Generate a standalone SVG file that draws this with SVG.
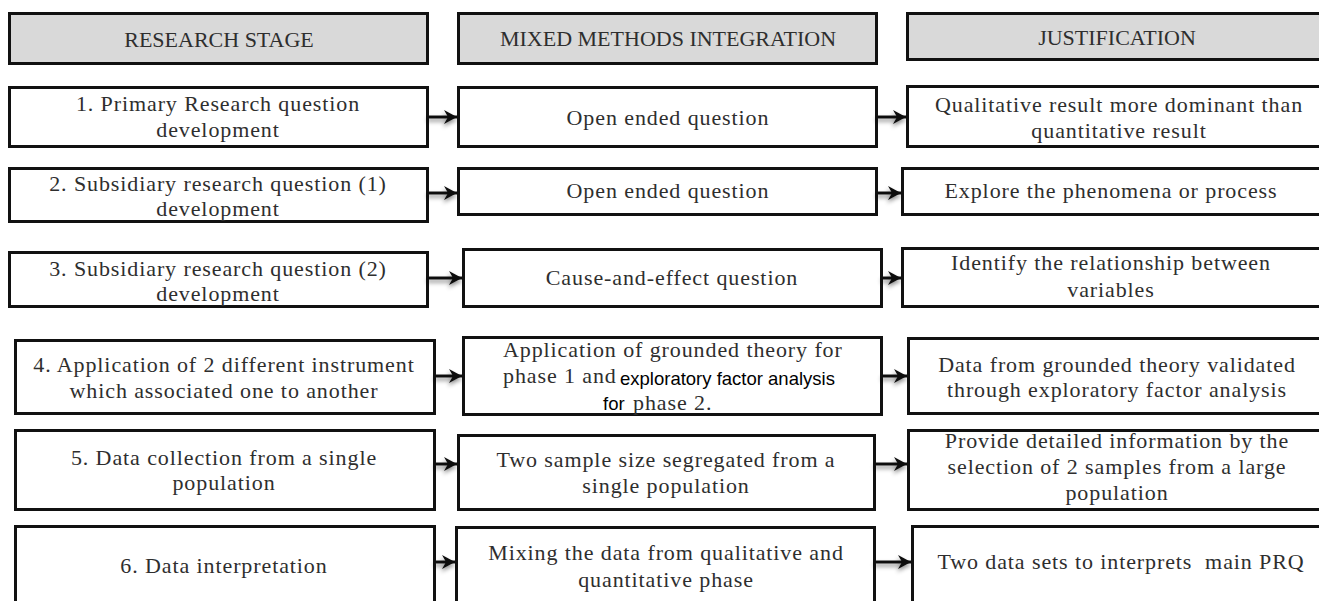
<svg xmlns="http://www.w3.org/2000/svg" width="1319" height="601" viewBox="0 0 1319 601">
<style>
.box{fill:#fff;stroke:#111;stroke-width:3}
.hdr{fill:#d9d9d9;stroke:#111;stroke-width:3}
.t{font-family:"Liberation Serif",serif;font-size:22px;fill:#2e2e2e;letter-spacing:0.9px;text-anchor:middle}
.h{font-family:"Liberation Serif",serif;font-size:22px;fill:#2e2e2e;text-anchor:middle}
.ts{font-family:"Liberation Serif",serif;font-size:22px;fill:#2e2e2e;letter-spacing:0.9px}
.s{font-family:"Liberation Sans",Arial,sans-serif;font-size:18.5px;fill:#000}
.c{stroke:#111;stroke-width:3;fill:none;marker-end:url(#ah)}
</style>
<defs>
<marker id="ah" markerUnits="userSpaceOnUse" markerWidth="14" markerHeight="16" refX="13" refY="8" orient="auto">
<path d="M0,1 L13,8 L0,15 L4,8 Z" fill="#111"/>
</marker>
<filter id="sh" x="-50%" y="-50%" width="200%" height="200%">
<feDropShadow dx="-1" dy="3" stdDeviation="2" flood-color="#000" flood-opacity="0.45"/>
</filter>
</defs>
<rect width="1319" height="601" fill="#fff"/>

<g id="hdr-stage"><rect class="hdr" x="9.5" y="13.5" width="418" height="50"/><text class="h" x="219" y="47">RESEARCH STAGE</text></g>
<g id="hdr-mixed"><rect class="hdr" x="458.5" y="13.5" width="418" height="50"/><text class="h" x="668" y="46">MIXED METHODS INTEGRATION</text></g>
<g id="hdr-just"><rect class="hdr" x="907.5" y="13.5" width="420" height="46"/><text class="h" x="1117" y="45">JUSTIFICATION</text></g>

<g id="r1-stage"><rect class="box" x="9.5" y="87.5" width="418" height="59"/><text class="t" x="218" y="111">1. Primary Research question</text><text class="t" x="218" y="137">development</text></g>
<g id="r1-mixed"><rect class="box" x="458.5" y="87.5" width="418" height="59"/><text class="t" x="668" y="125">Open ended question</text></g>
<g id="r1-just"><rect class="box" x="907.5" y="86.5" width="420" height="60"/><text class="t" x="1119" y="112">Qualitative result more dominant than</text><text class="t" x="1119" y="138">quantitative result</text></g>

<g id="r2-stage"><rect class="box" x="9.5" y="168.5" width="418" height="53"/><text class="t" x="218" y="191">2. Subsidiary research question (1)</text><text class="t" x="218" y="216">development</text></g>
<g id="r2-mixed"><rect class="box" x="458.5" y="168.5" width="418" height="46"/><text class="t" x="668" y="198">Open ended question</text></g>
<g id="r2-just"><rect class="box" x="902.5" y="168.5" width="425" height="46"/><text class="t" x="1111" y="198">Explore the phenomena or process</text></g>

<g id="r3-stage"><rect class="box" x="9.5" y="252.5" width="418" height="54"/><text class="t" x="218" y="276">3. Subsidiary research question (2)</text><text class="t" x="218" y="301">development</text></g>
<g id="r3-mixed"><rect class="box" x="463.5" y="249.5" width="418" height="57"/><text class="t" x="672" y="285">Cause-and-effect question</text></g>
<g id="r3-just"><rect class="box" x="902.5" y="248.5" width="425" height="58"/><text class="t" x="1111" y="270">Identify the relationship between</text><text class="t" x="1111" y="297">variables</text></g>

<g id="r4-stage"><rect class="box" x="15.5" y="340.5" width="419" height="73"/><text class="t" x="224" y="372">4. Application of 2 different instrument</text><text class="t" x="224" y="398">which associated one to another</text></g>
<g id="r4-mixed"><rect class="box" x="463.5" y="337.5" width="418" height="77"/>
<text class="ts" x="503" y="357">Application of grounded theory for</text>
<text class="ts" x="503" y="383">phase 1 and</text><text class="s" x="620" y="385">exploratory factor analysis</text>
<text class="s" x="603" y="410">for</text><text class="ts" x="633" y="410">phase 2.</text></g>
<g id="r4-just"><rect class="box" x="908.5" y="338.5" width="419" height="75"/><text class="t" x="1117" y="372">Data from grounded theory validated</text><text class="t" x="1117" y="397">through exploratory factor analysis</text></g>

<g id="r5-stage"><rect class="box" x="15.5" y="430.5" width="419" height="79"/><text class="t" x="224" y="465">5. Data collection from a single</text><text class="t" x="224" y="490">population</text></g>
<g id="r5-mixed"><rect class="box" x="458.5" y="435.5" width="416" height="74"/><text class="t" x="666" y="467">Two sample size segregated from a</text><text class="t" x="666" y="493">single population</text></g>
<g id="r5-just"><rect class="box" x="908.5" y="430.5" width="419" height="79"/><text class="t" x="1117" y="448">Provide detailed information by the</text><text class="t" x="1117" y="474">selection of 2 samples from a large</text><text class="t" x="1117" y="500">population</text></g>

<g id="r6-stage"><rect class="box" x="15.5" y="526.5" width="419" height="90"/><text class="t" x="224" y="573">6. Data interpretation</text></g>
<g id="r6-mixed"><rect class="box" x="456.5" y="527.5" width="418" height="90"/><text class="t" x="666" y="560">Mixing the data from qualitative and</text><text class="t" x="666" y="587">quantitative phase</text></g>
<g id="r6-just"><rect class="box" x="912.5" y="526.5" width="415" height="90"/><text class="t" x="1121" y="569" xml:space="preserve">Two data sets to interprets  main PRQ</text></g>

<g id="connectors" filter="url(#sh)">
<line class="c" x1="428" y1="117" x2="457" y2="117"/>
<line class="c" x1="877" y1="117" x2="906" y2="117"/>
<line class="c" x1="428" y1="193" x2="457" y2="193"/>
<line class="c" x1="877" y1="193" x2="901" y2="193"/>
<line class="c" x1="428" y1="278" x2="462" y2="278"/>
<line class="c" x1="882" y1="278" x2="901" y2="278"/>
<line class="c" x1="435" y1="376" x2="462" y2="376"/>
<line class="c" x1="882" y1="376" x2="907" y2="376"/>
<line class="c" x1="435" y1="464" x2="457" y2="464"/>
<line class="c" x1="875" y1="464" x2="907" y2="464"/>
<line class="c" x1="435" y1="562" x2="455" y2="562"/>
<line class="c" x1="875" y1="562" x2="911" y2="562"/>
</g>
</svg>
